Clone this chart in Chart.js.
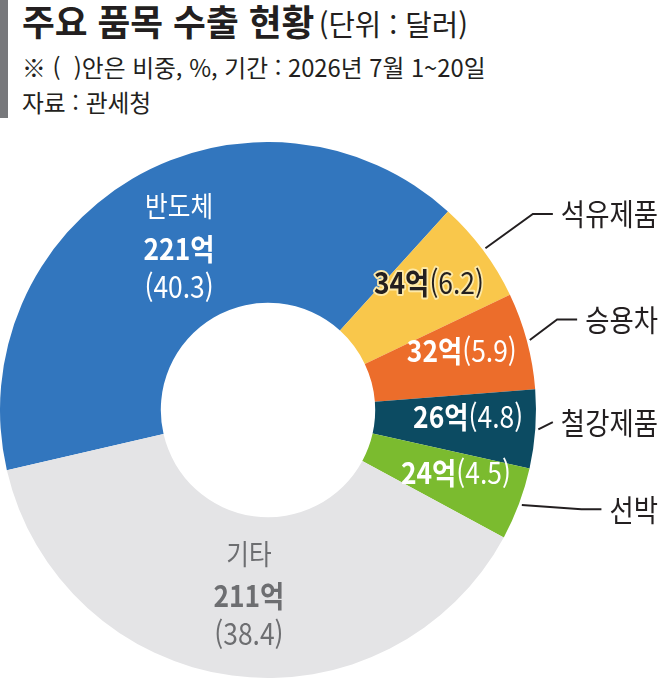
<!DOCTYPE html>
<html lang="ko">
<head>
<meta charset="utf-8">
<script src="https://cdn.jsdelivr.net/npm/chart.js@4.4.1/dist/chart.umd.min.js"></script>
<style>
    html, body { margin: 0; padding: 0; background: #fff; }
    body { width: 661px; height: 678px; position: relative; overflow: hidden;
           font-family: "Noto Sans CJK KR", "Noto Sans", sans-serif; color: #231f20; }
    .bar { position: absolute; left: 0; top: 0; width: 8px; height: 118px; background: #77787b; }
    .title { position: absolute; left: 22px; top: 2px; line-height: 1; white-space: nowrap;
             transform-origin: 0 50%; transform: scaleX(0.99); }
    .title b { font-size: 36px; font-weight: 700; }
    .title span { font-size: 29px; font-weight: 400; }
    .note { position: absolute; left: 22px; font-size: 24px; line-height: 1; white-space: nowrap;
            transform-origin: 0 50%; transform: scaleX(0.99); }
    #wrap { position: absolute; left: 0; top: 142px; width: 661px; height: 536px; }
</style>
</head>
<body>
<div class="bar"></div>
<div class="title"><b>주요 품목 수출 현황</b> <span>(단위 : 달러)</span></div>
<div class="note" style="top:55px">※ (&nbsp;&nbsp;)안은 비중, %, 기간 : 2026년 7월 1~20일</div>
<div class="note" style="top:90px">자료 : 관세청</div>
<div id="wrap"><canvas id="donut" width="661" height="536"></canvas></div>

<script>
// 2026년 7월 1~20일 주요 품목 수출 (억 달러)
const categories = ['반도체', '석유제품', '승용차', '철강제품', '선박', '기타'];
const amounts = [221, 34, 32, 26, 24, 211];
const shares = [40.3, 6.2, 5.9, 4.8, 4.5, 38.4];

const colors = ['#3276be', '#f9c74b', '#ec6d2b', '#0c4b62', '#7bbb2f', '#e4e4e6'];
// big slices get the 3-line label inside, small ones a 1-line label + outside name
const bigSlice = [true, false, false, false, false, true];
const nameColor = ['#ffffff', null, null, null, null, '#6d6e71'];
const innerColor = ['#ffffff', '#231f20', '#ffffff', '#ffffff', '#ffffff', '#6d6e71'];

const FONT = '"Noto Sans CJK KR", "Noto Sans", sans-serif';
const SX = 0.88;

function drawParts(ctx, parts, x, y, align, fill, stroke) {
    ctx.save();
    ctx.translate(x, y);
    ctx.scale(SX, 1);
    ctx.textBaseline = 'middle';
    ctx.textAlign = 'left';
    let total = 0;
    parts.forEach(p => {
        ctx.font = p.w + ' ' + p.s + 'px ' + FONT;
        p.width = ctx.measureText(p.t).width;
        total += p.width;
    });
    let cx = align === 'right' ? -total : -total / 2;
    parts.forEach(p => {
        ctx.font = p.w + ' ' + p.s + 'px ' + FONT;
        if (stroke) {
            ctx.lineJoin = 'round';
            ctx.lineWidth = 4;
            ctx.strokeStyle = stroke;
            ctx.strokeText(p.t, cx, 0);
        }
        ctx.fillStyle = fill;
        ctx.fillText(p.t, cx, 0);
        cx += p.width;
    });
    ctx.restore();
    return total * SX;
}

const labelPlugin = {
    id: 'sliceLabels',
    afterDatasetsDraw(chart) {
        const ctx = chart.ctx;
        const arcs = chart.getDatasetMeta(0).data;
        arcs.forEach((arc, i) => {
            const p = arc.getProps(['x', 'y', 'startAngle', 'endAngle', 'innerRadius', 'outerRadius'], true);
            const mid = (p.startAngle + p.endAngle) / 2;
            const amt = amounts[i] + '억';
            const pct = '(' + shares[i].toFixed(1) + ')';

            if (bigSlice[i]) {
                const r = (p.innerRadius + p.outerRadius) / 2;
                const lx = p.x + Math.cos(mid) * r + 6;
                const ly = p.y + Math.sin(mid) * r;
                drawParts(ctx, [{t: categories[i], w: 400, s: 28}], lx, ly - 42, 'center', nameColor[i]);
                drawParts(ctx, [{t: amt, w: 700, s: 30}], lx, ly, 'center', innerColor[i]);
                drawParts(ctx, [{t: pct, w: 400, s: 30}], lx, ly + 38, 'center', innerColor[i]);
                return;
            }

            const r = (p.innerRadius + p.outerRadius) / 2 + 13;
            const lx = p.x + Math.cos(mid) * r;
            const ly = p.y + Math.sin(mid) * r - 8;
            drawParts(ctx, [{t: amt, w: 700, s: 30}, {t: pct, w: 400, s: 30}], lx, ly,
                'center', innerColor[i], i === 1 ? '#fde9a8' : null);

            // leader line + name outside the ring
            const sx0 = p.x + Math.cos(mid) * (p.outerRadius + 3);
            const sy0 = p.y + Math.sin(mid) * (p.outerRadius + 3);
            const ty = p.y + (sy0 - p.y) * 1.15 - 10;
            const nameW = drawParts(ctx, [{t: categories[i], w: 400, s: 30}], chart.width - 3, ty, 'right', '#231f20');
            const endX = chart.width - 3 - nameW - 8;
            ctx.save();
            ctx.strokeStyle = '#231f20';
            ctx.lineWidth = 2;
            ctx.beginPath();
            ctx.moveTo(sx0, sy0);
            const elbowX = endX - 20;
            if (elbowX > sx0 + 6) ctx.lineTo(elbowX, ty);
            ctx.lineTo(endX, ty);
            ctx.stroke();
            ctx.restore();
        });
    }
};

new Chart(document.getElementById('donut'), {
    type: 'doughnut',
    data: {
        labels: categories,
        datasets: [{
            data: amounts,
            backgroundColor: colors,
            borderWidth: 0,
            hoverOffset: 0
        }]
    },
    options: {
        responsive: false,
        animation: false,
        devicePixelRatio: 1,
        rotation: 257,
        cutout: '40%',
        layout: {padding: {left: 0, top: 0, bottom: 0, right: 125}},
        plugins: {
            legend: {display: false},
            tooltip: {enabled: false}
        }
    },
    plugins: [labelPlugin]
});
</script>
</body>
</html>
